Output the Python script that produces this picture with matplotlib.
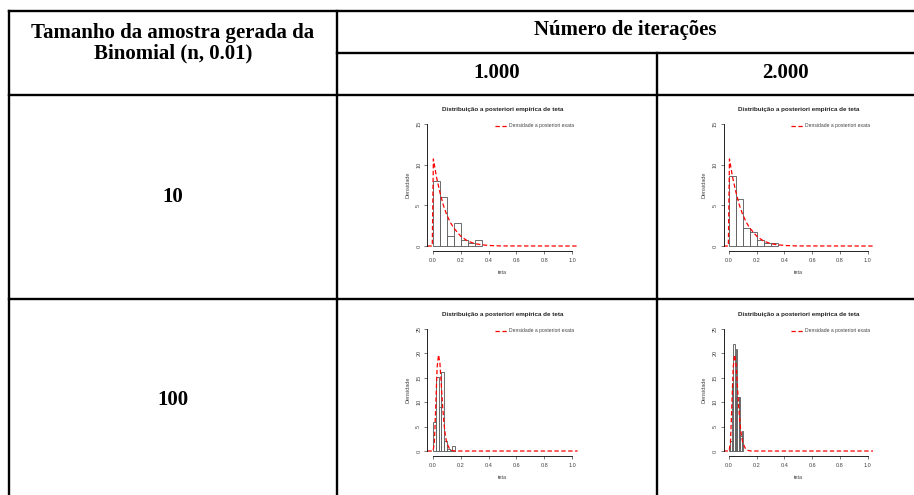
import matplotlib.pyplot as plt
import numpy as np

plt.rcParams['font.family'] = 'Liberation Sans'

# cabecalho da tabela
col_header = ['Tamanho da amostra gerada da', 'Binomial (n, 0.01)']
iter_header = 'Número de iterações'
iterations = ['1.000', '2.000']
sample_sizes = ['10', '100']

# histogramas (densidade de cada classe) e largura das classes
dens_10_1000 = [8.0, 6.0, 1.2, 2.8, 0.7, 0.4, 0.7]
dens_10_2000 = [8.6, 5.8, 2.2, 1.7, 0.7, 0.4, 0.4]
dens_100_1000 = [6.0, 15.2, 9.1, 16.1, 2.0, 0.5, 0.2, 1.0]
dens_100_2000 = [1.0, 2.0, 14.0, 22.0, 11.0, 21.0, 11.0, 11.0, 3.0, 4.0]
width_10 = 0.05
width_100_1000 = 0.02
width_100_2000 = 0.01

# densidade a posteriori exata
curve_x_10 = [-0.04, -0.005, 0.003, 0.025, 0.05, 0.075, 0.1, 0.125, 0.15, 0.2,
              0.25, 0.3, 0.35, 0.4, 0.45, 0.5, 1.04]
curve_y_10 = [0, 0, 10.7, 8.5, 6.6, 5.0, 3.8, 2.9, 2.2, 1.2,
              0.6, 0.3, 0.15, 0.07, 0.03, 0.01, 0]
curve_x_100 = [-0.04, 0.0, 0.01, 0.02, 0.03, 0.04, 0.05, 0.06, 0.07, 0.08,
               0.09, 0.1, 0.12, 0.14, 0.16, 1.04]
curve_y_100 = [0, 0, 1.5, 9.1, 17.2, 19.7, 18.0, 13.5, 9.0, 5.4,
               3.0, 1.6, 0.4, 0.08, 0, 0]

W, H = 914, 495
fig = plt.figure(figsize=(W / 100, H / 100), dpi=100)

# tabela
tab = fig.add_axes([0, 0, 1, 1])
tab.set_xlim(0, W)
tab.set_ylim(H, 0)
tab.axis('off')
lw = 1.7
tab.plot([9, W], [11, 11], color='black', lw=lw)
tab.plot([9, 9], [11, H], color='black', lw=lw)
tab.plot([337, 337], [11, H], color='black', lw=lw)
tab.plot([337, W], [53, 53], color='black', lw=lw)
tab.plot([657, 657], [53, H], color='black', lw=lw)
tab.plot([9, W], [95, 95], color='black', lw=lw)
tab.plot([9, W], [299, 299], color='black', lw=lw)

serif = dict(family='Liberation Serif', fontweight='bold', fontsize=15,
             ha='center', va='center')
tab.text(173, 33, col_header[0], **serif)
tab.text(173, 53, col_header[1], **serif)
tab.text(625, 30, iter_header, **serif)
tab.text(497, 73, iterations[0], **serif)
tab.text(785, 73, iterations[1], **serif)
tab.text(173, 197, sample_sizes[0], **serif)
tab.text(173, 400, sample_sizes[1], **serif)


def painel(rect, dens, width, cx, cy, ymax, step):
    ax = fig.add_axes(rect)
    lefts = np.arange(len(dens)) * width
    ax.bar(lefts, dens, width=width, align='edge', color='white',
           edgecolor='#555555', linewidth=0.6)
    ax.plot(cx, cy, color='red', linestyle='--', linewidth=0.9, dashes=(3.5, 2))
    ax.set_xlim(-0.04, 1.04)
    ax.set_ylim(-0.04 * ymax, 1.04 * ymax)
    ax.spines['top'].set_visible(False)
    ax.spines['right'].set_visible(False)
    ax.spines['left'].set_bounds(0, ymax)
    ax.spines['bottom'].set_bounds(0, 1)
    for s in ['left', 'bottom']:
        ax.spines[s].set_linewidth(0.6)
    ax.set_xticks([0, 0.2, 0.4, 0.6, 0.8, 1.0])
    ax.set_xticklabels(['0.0', '0.2', '0.4', '0.6', '0.8', '1.0'])
    ax.set_yticks(np.arange(0, ymax + 1, step))
    ax.tick_params(length=2.2, width=0.5, labelsize=4.0, colors='#444444',
                   pad=2.8)
    ax.tick_params(axis='y', labelrotation=90, pad=2.2)
    for lab in ax.get_yticklabels():
        lab.set_va('center')
    ax.set_title('Distribuição a posteriori empírica de teta', fontsize=4.5,
                 fontweight='bold', pad=6, color='#222222')
    ax.set_xlabel('teta', fontsize=4.0, labelpad=5, color='#444444')
    ax.set_ylabel('Densidade', fontsize=4.0, labelpad=4.5, color='#444444')
    # legenda sem moldura
    ax.plot([0.45, 0.53], [0.948, 0.948], transform=ax.transAxes,
            color='red', linestyle='--', linewidth=0.9, dashes=(3.5, 2))
    ax.text(0.543, 0.948, 'Densidade a posteriori exata', transform=ax.transAxes,
            fontsize=3.6, va='center', ha='left', color='#444444')
    ax.patch.set_alpha(0)
    return ax


top_row = (H - 250.9) / H
bot_row = (H - 455.9) / H
h = 131.8 / H
painel([427.4 / W, top_row, 150.2 / W, h], dens_10_1000, width_10,
       curve_x_10, curve_y_10, 15, 5)
painel([723.5 / W, top_row, 149.7 / W, h], dens_10_2000, width_10,
       curve_x_10, curve_y_10, 15, 5)
painel([427.4 / W, bot_row, 150.2 / W, h], dens_100_1000, width_100_1000,
       curve_x_100, curve_y_100, 25, 5)
painel([723.5 / W, bot_row, 149.7 / W, h], dens_100_2000, width_100_2000,
       curve_x_100, curve_y_100, 25, 5)

fig.savefig('out.png', dpi=100)
